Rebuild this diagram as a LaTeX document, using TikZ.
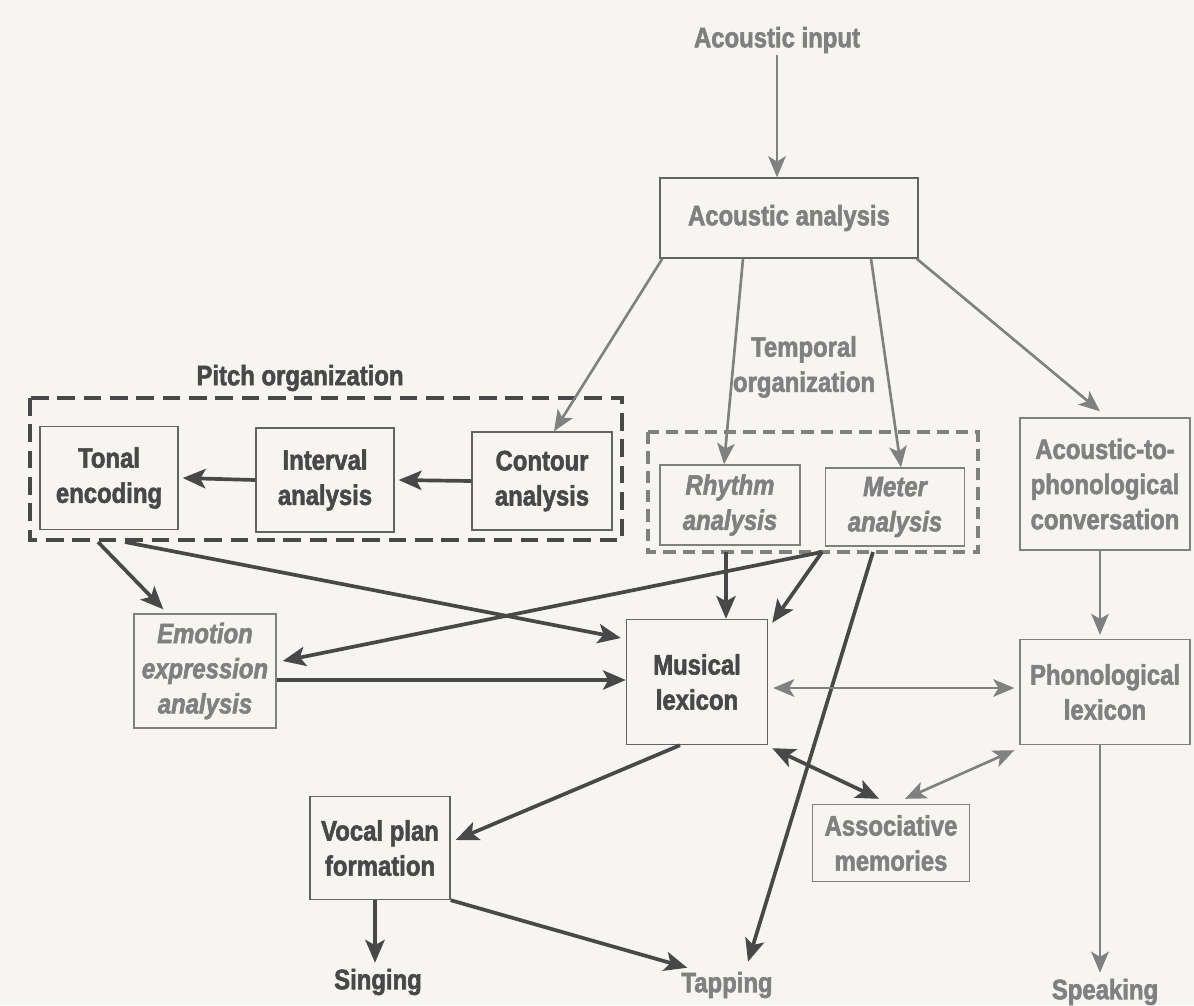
\documentclass[tikz,border=0pt]{standalone}
\usepackage{fontspec}
\setmainfont{Liberation Sans}[FakeStretch=0.85, BoldFeatures={FakeBold=2}, BoldItalicFeatures={FakeBold=2}]
\usepackage{tikz}
\usetikzlibrary{arrows.meta, positioning, calc}
\definecolor{inkdark}{RGB}{72,72,72}
\definecolor{inklight}{RGB}{128,128,128}
\definecolor{paper}{RGB}{246,245,242}

\begin{document}
\begin{tikzpicture}[
        x=0.02cm, y=-0.02cm,
        font=\fontsize{16}{20}\selectfont\bfseries,
        box/.style={draw=inkdark!85, line width=0.8pt, align=center, inner sep=2pt, text=inkdark},
        lbox/.style={box, draw=inklight, text=inklight},
        label/.style={align=center, inner sep=1pt, text=inkdark},
        llabel/.style={label, text=inklight},
        arrow/.style={-{Stealth[length=13pt,width=11pt,inset=3pt]}, line width=2.1pt, draw=inkdark},
        larrow/.style={-{Stealth[length=12pt,width=10pt,inset=3pt]}, line width=1.5pt, draw=inklight},
        dblarrow/.style={arrow, {Stealth[length=13pt,width=11pt,inset=3pt]}-{Stealth[length=13pt,width=11pt,inset=3pt]}},
        ldblarrow/.style={larrow, {Stealth[length=12pt,width=10pt,inset=3pt]}-{Stealth[length=12pt,width=10pt,inset=3pt]}}
    ]
    \fill[paper] (0,0) rectangle (1194,1005);
    \useasboundingbox (0,0) rectangle (1194,1005);

    % Input and first analysis
    \node[llabel] (input) at (777,40) {Acoustic input};
    \node[box, text=inklight, minimum width=5.16cm, minimum height=1.6cm] (acan) at (789,218) {Acoustic analysis};

    % Pitch organization
    \node[label] (pitchlbl) at (300,378) {Pitch organization};
    \draw[inkdark, line width=2.2pt, dash pattern=on 10pt off 5pt] (30,398) rectangle (622,540);
    \node[box, minimum width=2.76cm, minimum height=2.06cm] (tonal) at (109,478) {Tonal\\encoding};
    \node[box, minimum width=2.76cm, minimum height=2.08cm] (interval) at (325,480) {Interval\\analysis};
    \node[box, minimum width=2.8cm, minimum height=1.96cm] (contour) at (542,481) {Contour\\analysis};

    % Temporal organization
    \node[llabel] (templbl) at (804,367) {Temporal\\organization};
    \draw[inklight, line width=1.8pt, dash pattern=on 7pt off 4pt] (648,432) rectangle (978,552);
    \node[lbox, minimum width=2.8cm, minimum height=1.6cm] (rhythm) at (730,505) {\itshape Rhythm\\\itshape analysis};
    \node[lbox, minimum width=2.78cm, minimum height=1.56cm] (meter) at (895,507) {\itshape Meter\\\itshape analysis};

    % Speech route
    \node[lbox, minimum width=3.4cm, minimum height=2.64cm] (atp) at (1105,484) {Acoustic-to-\\phonological\\conversation};
    \node[lbox, minimum width=3.4cm, minimum height=2.1cm] (phonlex) at (1105,692) {Phonological\\lexicon};

    % Lexicon and outputs
    \node[lbox, minimum width=2.84cm, minimum height=2.28cm] (emotion) at (205,671) {\itshape Emotion\\\itshape expression\\\itshape analysis};
    \node[box, minimum width=2.82cm, minimum height=2.5cm] (muslex) at (697,682) {Musical\\lexicon};
    \node[box, minimum width=2.8cm, minimum height=2.06cm] (vocal) at (380,848) {Vocal plan\\formation};
    \node[lbox, minimum width=3.14cm, minimum height=1.54cm] (assoc) at (891,843) {Associative\\memories};
    \node[label] (singing) at (378,982) {Singing};
    \node[llabel] (tapping) at (727,985) {Tapping};
    \node[llabel] (speaking) at (1105,992) {Speaking};

    % From acoustic analysis
    \draw[larrow] (input.south) -- (input.south |- acan.north);
    \draw[larrow] ($(acan.south west)+(3,0)$) -- ($(contour.north)+(12,0)$);
    \draw[larrow] ($(acan.south)+(-46,0)$) -- ($(rhythm.north)+(-6,0)$);
    \draw[larrow] ($(acan.south)+(82,0)$) -- ($(meter.north)+(6,0)$);
    \draw[larrow] ($(acan.south east)+(-2,0)$) -- ($(atp.north)+(-5,-6)$);

    % Pitch chain
    \draw[arrow] (interval.west) -- ($(tonal.east)+(4,0)$);
    \draw[arrow] (contour.west) -- ($(interval.east)+(4,0)$);

    % Towards lexicon
    \coordinate (tonalout1) at (98,542);
    \coordinate (tonalout2) at (125,542);
    \draw[arrow] (tonalout1) -- ($(emotion.north west)+(30,-4)$);
    \draw[arrow] (tonalout2) -- ($(muslex.west)+(-5,-44)$);
    \coordinate (meterout1) at (822,552);
    \coordinate (meterout2) at (873,552);
    \coordinate (rhythmout) at (726,552);
    \draw[arrow] (meterout1) -- ($(emotion.east)+(6,-10)$);
    \draw[arrow] (meterout1) -- ($(muslex.north east)+(4,4)$);
    \draw[arrow] (rhythmout) -- (rhythmout |- muslex.north);
    \draw[arrow] (meterout2) -- ($(tapping.north)+(21,-8)$);
    \coordinate (emoout) at ($(emotion.east)+(0,9)$);
    \draw[arrow] (emoout) -- (emoout -| muslex.west);

    % Lexical links
    \draw[ldblarrow] ($(muslex.east)+(5,6)$) -- ($(phonlex.west)+(-5,-4)$);
    \draw[dblarrow] ($(muslex.south east)+(4,3)$) -- ($(assoc.north)+(-12,-5)$);
    \draw[ldblarrow] ($(phonlex.south west)+(-5,5)$) -- ($(assoc.north)+(14,-5)$);
    \draw[larrow] ($(atp.south)+(-5,0)$) -- ($(phonlex.north)+(-5,-4)$);

    % Outputs
    \coordinate (vocalout) at ($(vocal.south)+(-5,0)$);
    \draw[arrow] ($(muslex.south)+(-17,0)$) -- ($(vocal.east)+(5,-8)$);
    \draw[arrow] (vocalout) -- ($(vocalout |- singing.north)+(0,-4)$);
    \draw[arrow] (vocal.south east) -- ($(tapping.north west)+(8,-2)$);
    \draw[larrow] ($(phonlex.south)+(-5,0)$) -- ($(speaking.north)+(-5,-4)$);
\end{tikzpicture}
\end{document}
